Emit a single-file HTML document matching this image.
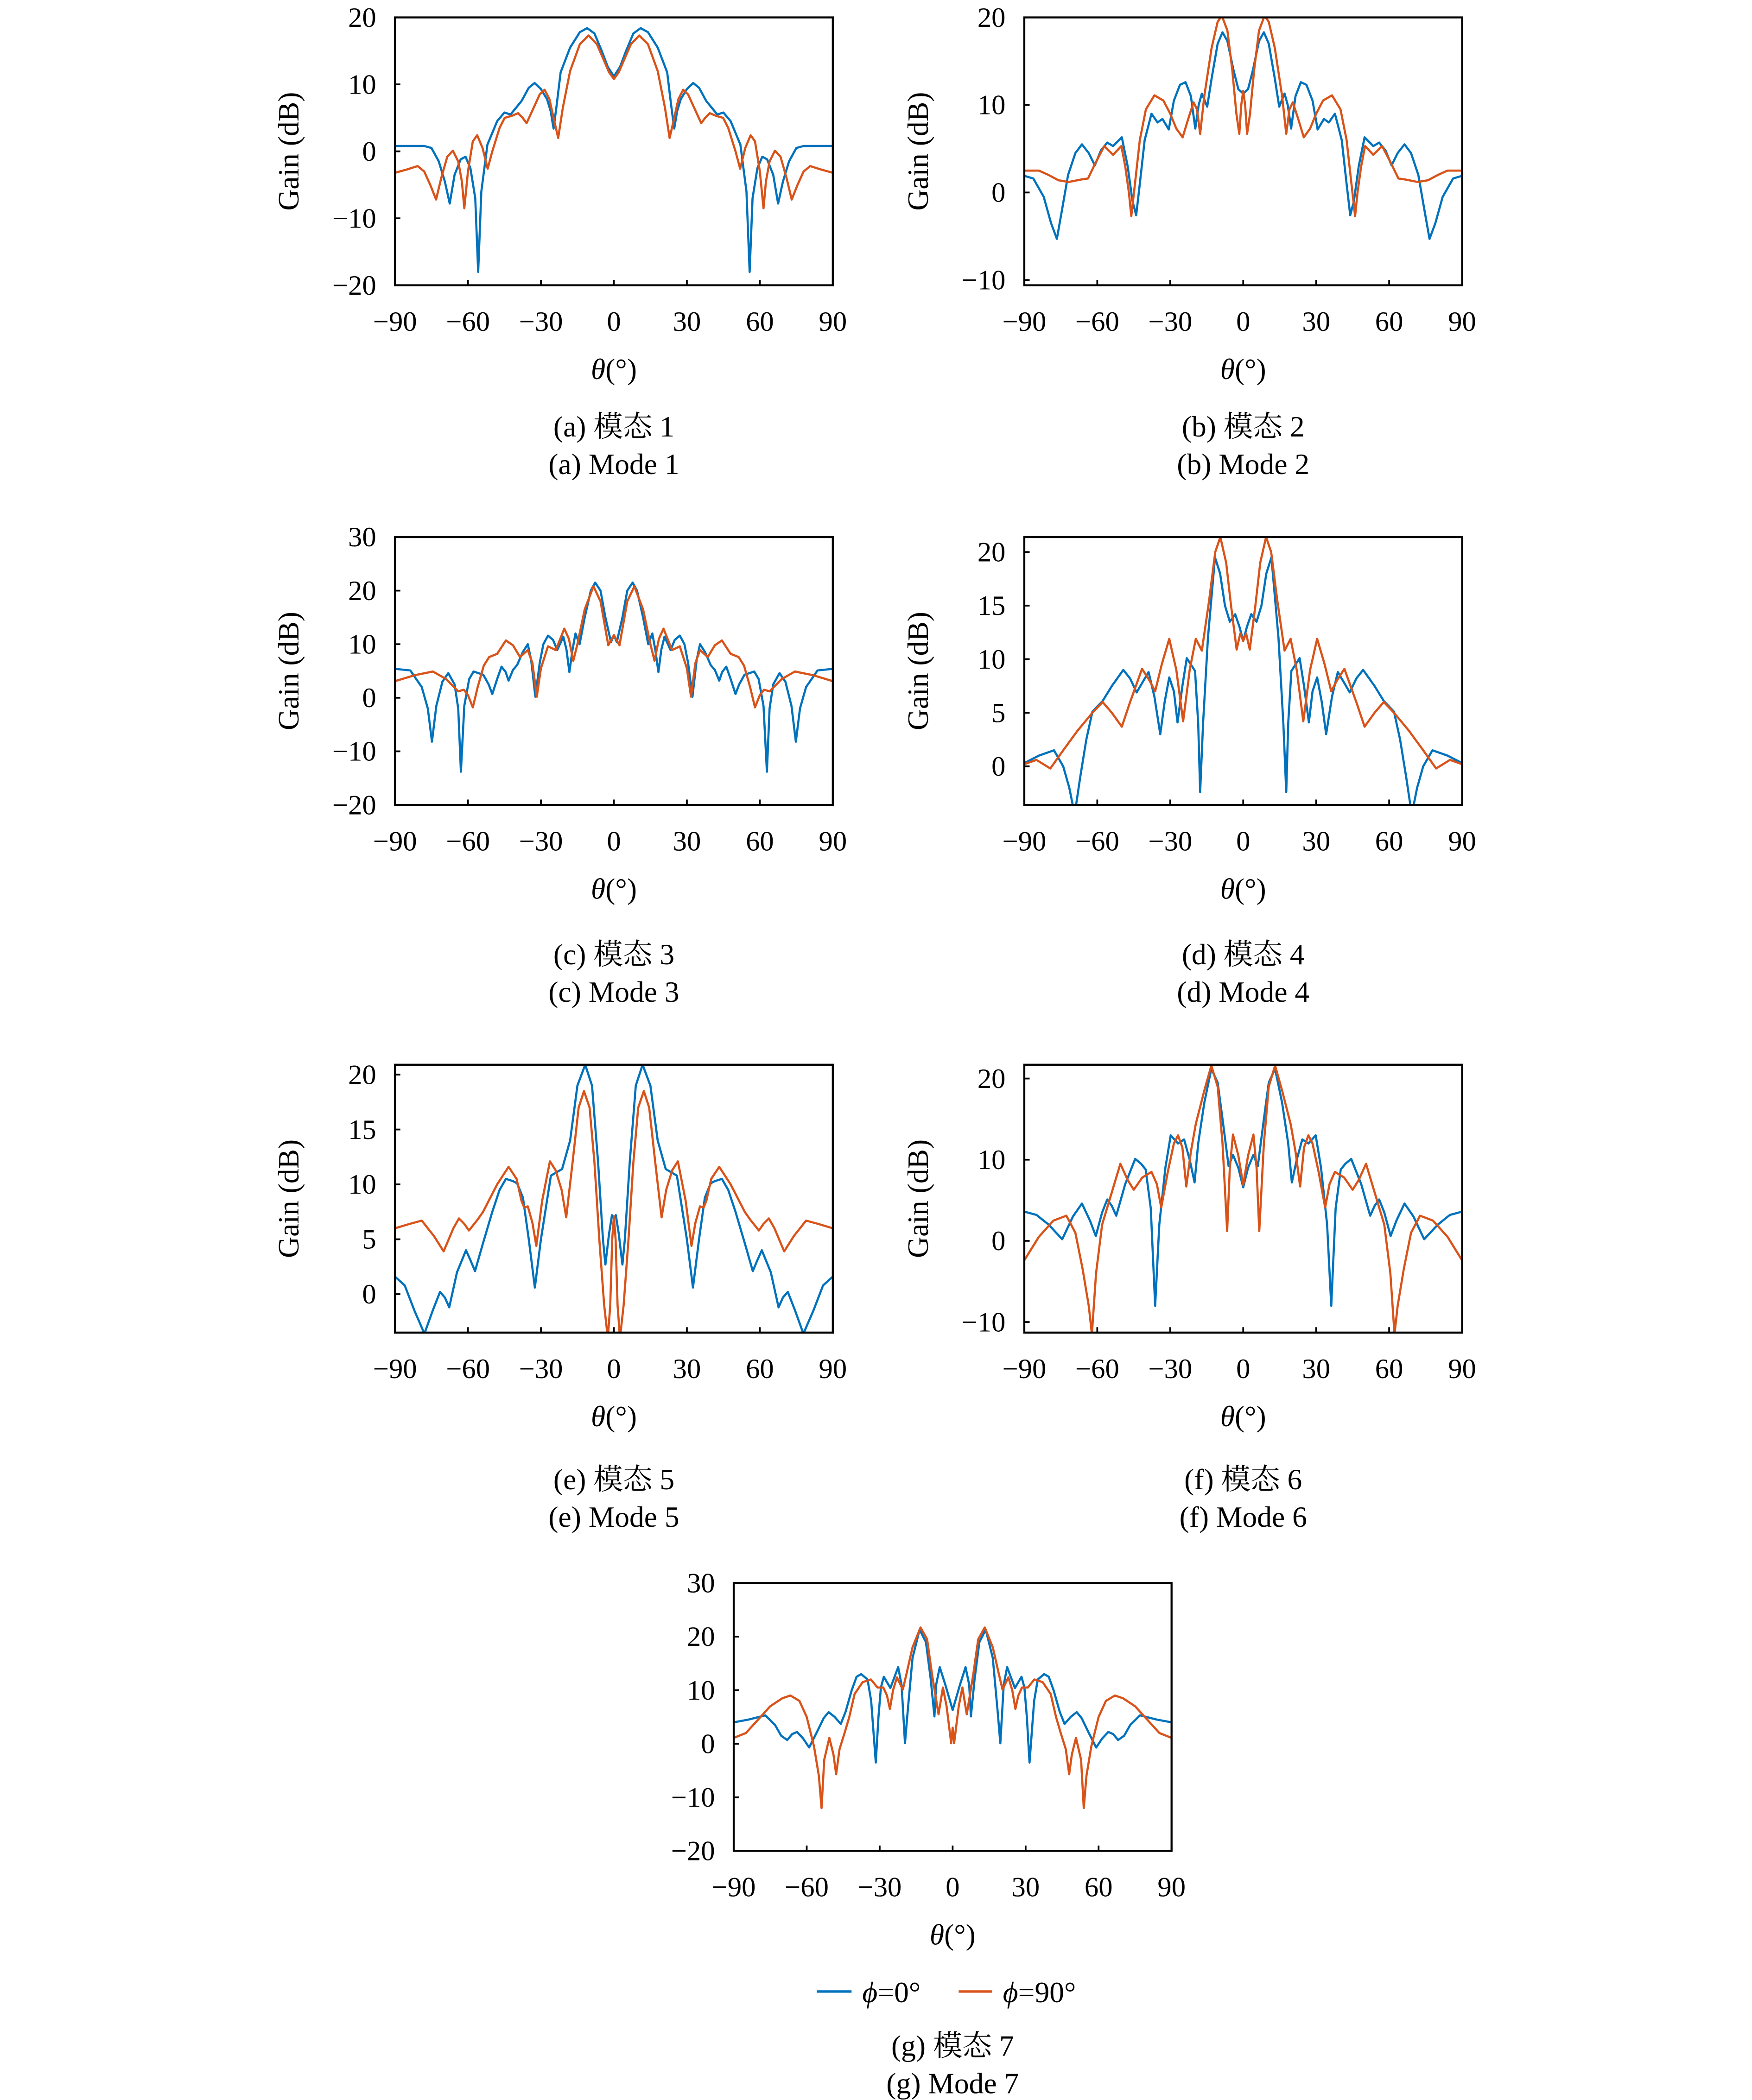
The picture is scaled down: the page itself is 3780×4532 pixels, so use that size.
<!DOCTYPE html>
<html><head><meta charset="utf-8"><style>
html,body{margin:0;padding:0;background:#fff;overflow:hidden;width:3780px;height:4532px}
svg{display:block}
text{font-family:"Liberation Serif","Noto Serif CJK SC",serif;fill:#000}
</style></head><body>
<svg id="fig" xmlns="http://www.w3.org/2000/svg" width="3780" height="4532" viewBox="0 0 1308.5 1568" preserveAspectRatio="none"></svg>
<script>
// ---- data: theta (deg), gain (dB) pairs ----
const xTicks=[-90,-60,-30,0,30,60,90];
const aBlue=[[-90,0.8],[-78,0.8],[-75,0.5],[-72,-1.5],[-69.5,-4.5],[-67.5,-7.8],[-65.5,-3.5],[-63,-1.2],[-61,-0.8],[-59,-2.5],[-57,-7],[-55.8,-18],[-54.5,-6],[-52,1],[-48,4.5],[-45,5.8],[-42.5,5.5],[-38,7.5],[-35,9.5],[-32.6,10.2],[-30,9.3],[-27.5,7.8],[-26,6],[-24.8,3.4],[-23.5,7],[-21.9,11.8],[-18,15.5],[-14,17.8],[-11,18.4],[-8,17.6],[-5,15],[-2.5,12.6],[0,11.2],[2.5,12.6],[5,15],[8,17.6],[11,18.4],[14,17.8],[18,15.5],[21.9,11.8],[23.5,7],[24.8,3.4],[26,6],[27.5,7.8],[30,9.3],[32.6,10.2],[35,9.5],[38,7.5],[42.5,5.5],[45,5.8],[48,4.5],[52,1],[54.5,-6],[55.8,-18],[57,-7],[59,-2.5],[61,-0.8],[63,-1.2],[65.5,-3.5],[67.5,-7.8],[69.5,-4.5],[72,-1.5],[75,0.5],[78,0.8],[90,0.8]];
const aOrange=[[-90,-3.2],[-85,-2.7],[-80.7,-2.2],[-78,-3],[-75.5,-5],[-73.1,-7.2],[-71,-4],[-68.5,-0.8],[-66.2,0.1],[-64,-1.5],[-62.5,-4.5],[-61.5,-8.5],[-60,-3],[-58,1.5],[-56.2,2.4],[-54,0.5],[-51.9,-2.6],[-50,0],[-47,3.5],[-44.9,5],[-42,5.3],[-39.4,5.7],[-37.5,5],[-35.9,4.2],[-33,6.5],[-30.5,8.5],[-28.5,9.2],[-26.5,7.8],[-24.5,4.5],[-22.9,2],[-21,6.5],[-18,12],[-14,16],[-10.4,17.3],[-7,16],[-4,13.5],[-2,11.8],[0,10.8],[2,11.8],[4,13.5],[7,16],[10.4,17.3],[14,16],[18,12],[21,6.5],[22.9,2],[24.5,4.5],[26.5,7.8],[28.5,9.2],[30.5,8.5],[33,6.5],[35.9,4.2],[37.5,5],[39.4,5.7],[42,5.3],[44.9,5],[47,3.5],[50,0],[51.9,-2.6],[54,0.5],[56.2,2.4],[58,1.5],[60,-3],[61.5,-8.5],[62.5,-4.5],[64,-1.5],[66.2,0.1],[68.5,-0.8],[71,-4],[73.1,-7.2],[75.5,-5],[78,-3],[80.7,-2.2],[85,-2.7],[90,-3.2]];
const bBlue=[[-90,1.9],[-86.3,1.6],[-82,-0.5],[-79,-3.5],[-76.6,-5.3],[-74.5,-2],[-72,2],[-69,4.5],[-66.3,5.5],[-63.5,4.5],[-61,3.1],[-58.5,4.8],[-55.9,5.7],[-53.5,5.3],[-49.9,6.3],[-47.5,3],[-45.5,-1],[-44,-2.6],[-42.5,1],[-40.5,6],[-37.7,9],[-35.2,8],[-33.2,8.4],[-30.6,7.2],[-28.5,10.5],[-26,12.3],[-23.7,12.6],[-21.5,11],[-19.7,7.3],[-18.3,10],[-17,11.3],[-14.8,9.8],[-13,13],[-10.5,17],[-8.5,18.3],[-6.5,17.3],[-4,14],[-2,11.8],[0,11.3],[2,11.8],[4,14],[6.5,17.3],[8.5,18.3],[10.5,17],[13,13],[14.8,9.8],[17,11.3],[18.3,10],[19.7,7.3],[21.5,11],[23.7,12.6],[26,12.3],[28.5,10.5],[30.6,7.2],[33.2,8.4],[35.2,8],[37.7,9],[40.5,6],[42.5,1],[44,-2.6],[45.5,-1],[47.5,3],[49.9,6.3],[53.5,5.3],[55.9,5.7],[58.5,4.8],[61,3.1],[63.5,4.5],[66.3,5.5],[69,4.5],[72,2],[74.5,-2],[76.6,-5.3],[79,-3.5],[82,-0.5],[86.3,1.6],[90,1.9]];
const bOrange=[[-90,2.5],[-84,2.5],[-80,2],[-76,1.4],[-71.8,1.2],[-66.3,1.5],[-63.8,1.6],[-60.5,3.5],[-57.1,5.3],[-53.5,4.3],[-50.1,5.3],[-48.5,3],[-47,0],[-46,-2.7],[-44.5,1],[-42.5,6],[-40,9.5],[-36.5,11.1],[-32.8,10.5],[-30,9],[-27.5,7.3],[-24.9,6.3],[-22.5,8.5],[-20.4,10.3],[-19,9.5],[-17.7,6.7],[-16,11],[-13,16.5],[-10.5,19.5],[-8.8,20.2],[-6.5,18.5],[-4.5,14],[-2.8,9],[-1.6,6.7],[-0.8,10],[0,11.6],[0.8,10],[1.6,6.7],[2.8,9],[4.5,14],[6.5,18.5],[8.8,20.2],[10.5,19.5],[13,16.5],[16,11],[17.7,6.7],[19,9.5],[20.4,10.3],[22.5,8.5],[24.9,6.3],[27.5,7.3],[30,9],[32.8,10.5],[36.5,11.1],[40,9.5],[42.5,6],[44.5,1],[46,-2.7],[47,0],[48.5,3],[50.1,5.3],[53.5,4.3],[57.1,5.3],[60.5,3.5],[63.8,1.6],[66.3,1.5],[71.8,1.2],[76,1.4],[80,2],[84,2.5],[90,2.5]];
const cBlue=[[-90,5.4],[-83.7,5.1],[-79,2],[-76.5,-2],[-74.8,-8.2],[-73,-1.5],[-70.5,3],[-68.1,4.6],[-65.5,2.5],[-64,-2],[-62.9,-13.8],[-61.5,-1.5],[-59.5,3.5],[-57.7,4.9],[-53.7,4.3],[-51.5,2.5],[-50,0.7],[-48,3.5],[-46.2,5.8],[-44.5,4.8],[-43.3,3.2],[-41.5,5.2],[-39.8,6.1],[-37.5,8.5],[-35.4,10],[-34,7],[-32.3,0.2],[-30.5,6.5],[-29,10],[-27.1,11.6],[-25,10.8],[-23.3,8.9],[-20.8,11.4],[-19.5,9],[-18.3,4.8],[-17,9],[-15.8,12],[-14.1,10],[-12,15],[-9.5,20],[-7.7,21.5],[-5.5,20],[-3.5,15],[-1.2,10.4],[0,11.7],[1.2,10.4],[3.5,15],[5.5,20],[7.7,21.5],[9.5,20],[12,15],[14.1,10],[15.8,12],[17,9],[18.3,4.8],[19.5,9],[20.8,11.4],[23.3,8.9],[25,10.8],[27.1,11.6],[29,10],[30.5,6.5],[32.3,0.2],[34,7],[35.4,10],[37.5,8.5],[39.8,6.1],[41.5,5.2],[43.3,3.2],[44.5,4.8],[46.2,5.8],[48,3.5],[50,0.7],[51.5,2.5],[53.7,4.3],[57.7,4.9],[59.5,3.5],[61.5,-1.5],[62.9,-13.8],[64,-2],[65.5,2.5],[68.1,4.6],[70.5,3],[73,-1.5],[74.8,-8.2],[76.5,-2],[79,2],[83.7,5.1],[90,5.4]];
const cOrange=[[-90,3.1],[-82,4.2],[-74.4,4.9],[-69,3.5],[-64,1.2],[-61.7,1.5],[-60,0.5],[-58,-1.8],[-56,2],[-53.5,6],[-51.3,7.6],[-48,8.2],[-44.4,10.7],[-41.5,9.8],[-38.6,7.6],[-35.4,8.9],[-33.5,6.5],[-31.7,0.2],[-30,5.5],[-27.1,9.6],[-23.9,8.9],[-20.4,12.9],[-18.5,11],[-16.7,6.9],[-15,10],[-12,16.5],[-8.4,20.8],[-5.5,18],[-2.3,9.8],[0,11.7],[2.3,9.8],[5.5,18],[8.4,20.8],[12,16.5],[15,10],[16.7,6.9],[18.5,11],[20.4,12.9],[23.9,8.9],[27.1,9.6],[30,5.5],[31.7,0.2],[33.5,6.5],[35.4,8.9],[38.6,7.6],[41.5,9.8],[44.4,10.7],[48,8.2],[51.3,7.6],[53.5,6],[56,2],[58,-1.8],[60,0.5],[61.7,1.5],[64,1.2],[69,3.5],[74.4,4.9],[82,4.2],[90,3.1]];
const dBlue=[[-90,0.3],[-84,1],[-77.8,1.5],[-74,0],[-71.5,-2],[-69.3,-4.5],[-67,-1],[-64.5,2.5],[-62,5.1],[-57.8,6.1],[-54,7.5],[-49.3,9],[-46.5,8.2],[-43.8,6.9],[-41.5,7.8],[-38.9,8.8],[-36.5,6.5],[-34.1,3],[-32.3,6],[-30.4,8.3],[-28.5,7],[-27,4.1],[-25,7.5],[-23.2,10.1],[-19.8,8.9],[-18.5,4],[-17.7,-2.4],[-16.5,4],[-14.5,12],[-11.6,19.5],[-9.5,18],[-7.5,15],[-5.5,13.5],[-3.3,14.2],[-1.5,13],[0,11.7],[1.5,13],[3.3,14.2],[5.5,13.5],[7.5,15],[9.5,18],[11.6,19.5],[14.5,12],[16.5,4],[17.7,-2.4],[18.5,4],[19.8,8.9],[23.2,10.1],[25,7.5],[27,4.1],[28.5,7],[30.4,8.3],[32.3,6],[34.1,3],[36.5,6.5],[38.9,8.8],[41.5,7.8],[43.8,6.9],[46.5,8.2],[49.3,9],[54,7.5],[57.8,6.1],[62,5.1],[64.5,2.5],[67,-1],[69.3,-4.5],[71.5,-2],[74,0],[77.8,1.5],[84,1],[90,0.3]];
const dOrange=[[-90,0.2],[-85,0.6],[-79.3,-0.2],[-74,1.5],[-68.2,3.3],[-62,5],[-57.8,6],[-54,5],[-49.9,3.7],[-46.5,6],[-41.6,9.1],[-38.5,8],[-36.2,7],[-33.5,9.5],[-30.4,11.9],[-27.5,9],[-24.7,4.2],[-22,9],[-19.5,11.9],[-17,10.8],[-14,15.5],[-11.5,20],[-9.4,21.4],[-7,19],[-5,15],[-2.7,10.9],[-1.2,12.4],[0,11.7],[1.2,12.4],[2.7,10.9],[5,15],[7,19],[9.4,21.4],[11.5,20],[14,15.5],[17,10.8],[19.5,11.9],[22,9],[24.7,4.2],[27.5,9],[30.4,11.9],[33.5,9.5],[36.2,7],[38.5,8],[41.6,9.1],[46.5,6],[49.9,3.7],[54,5],[57.8,6],[62,5],[68.2,3.3],[74,1.5],[79.3,-0.2],[85,0.6],[90,0.2]];
const eBlue=[[-90,1.6],[-86,0.8],[-82,-1.5],[-77.9,-3.6],[-74.5,-1.5],[-71.5,0.2],[-69.5,-0.3],[-67.7,-1.2],[-64.5,2],[-60.8,4],[-58.8,3],[-57.1,2.1],[-54,4.5],[-50,7.5],[-47,9.5],[-44.4,10.5],[-41.5,10.3],[-39.8,10.1],[-37.4,8.8],[-35,5],[-32.5,0.6],[-30,5],[-25.9,10.8],[-21.3,11.4],[-18,14],[-15,19],[-11.8,20.9],[-9,19],[-6.5,12],[-4.5,5],[-3.5,2.7],[-2,5.5],[-0.8,7.2],[0,6.9],[0.8,7.2],[2,5.5],[3.5,2.7],[4.5,5],[6.5,12],[9,19],[11.8,20.9],[15,19],[18,14],[21.3,11.4],[25.9,10.8],[30,5],[32.5,0.6],[35,5],[37.4,8.8],[39.8,10.1],[41.5,10.3],[44.4,10.5],[47,9.5],[50,7.5],[54,4.5],[57.1,2.1],[58.8,3],[60.8,4],[64.5,2],[67.7,-1.2],[69.5,-0.3],[71.5,0.2],[74.5,-1.5],[77.9,-3.6],[82,-1.5],[86,0.8],[90,1.6]];
const eOrange=[[-90,6],[-84,6.4],[-79,6.7],[-74,5.3],[-70,3.9],[-66,6],[-63.7,6.9],[-61.5,6.4],[-59.6,5.8],[-56,6.8],[-53.8,7.5],[-48,10],[-43.3,11.6],[-40,10.5],[-38,8.5],[-36.9,7.9],[-35.4,8],[-33.5,6.5],[-31.9,4.4],[-29.5,8.5],[-26.3,12.1],[-24,11.3],[-21.5,9.5],[-19.6,7],[-17,12],[-14.5,17],[-12.3,18.5],[-10,17],[-8,12],[-6,5],[-4,-1],[-2.5,-4],[-1.5,-1],[-0.7,5],[0,7.1],[0.7,5],[1.5,-1],[2.5,-4],[4,-1],[6,5],[8,12],[10,17],[12.3,18.5],[14.5,17],[17,12],[19.6,7],[21.5,9.5],[24,11.3],[26.3,12.1],[29.5,8.5],[31.9,4.4],[33.5,6.5],[35.4,8],[36.9,7.9],[38,8.5],[40,10.5],[43.3,11.6],[48,10],[53.8,7.5],[56,6.8],[59.6,5.8],[61.5,6.4],[63.7,6.9],[66,6],[70,3.9],[74,5.3],[79,6.7],[84,6.4],[90,6]];
const fBlue=[[-90,3.6],[-85,3.2],[-80,2],[-74.4,0.2],[-70,3],[-66.3,4.6],[-63,2.5],[-60.6,0.6],[-58,3.5],[-55.9,5.1],[-54,4.3],[-52.2,3.1],[-48.5,7],[-44.4,10.1],[-42,9.5],[-40.1,8.8],[-38,4],[-36.2,-8],[-34.5,2],[-32,9],[-29.8,13],[-26.8,12],[-24.3,12.5],[-22,10],[-20,7.2],[-18.5,12],[-16,17],[-13.1,21.2],[-10.5,19.5],[-8.5,15],[-6,9.2],[-4.2,10.6],[-2,9],[0,6.6],[2,9],[4.2,10.6],[6,9.2],[8.5,15],[10.5,19.5],[13.1,21.2],[16,17],[18.5,12],[20,7.2],[22,10],[24.3,12.5],[26.8,12],[29.8,13],[32,9],[34.5,2],[36.2,-8],[38,4],[40.1,8.8],[42,9.5],[44.4,10.1],[48.5,7],[52.2,3.1],[54,4.3],[55.9,5.1],[58,3.5],[60.6,0.6],[63,2.5],[66.3,4.6],[70,3],[74.4,0.2],[80,2],[85,3.2],[90,3.6]];
const fOrange=[[-90,-2.4],[-84,0.5],[-78,2.5],[-72.7,3.1],[-69,1],[-66,-3.5],[-63.5,-8],[-62.2,-11.5],[-60.5,-4],[-58,2],[-54,6],[-50.5,9.5],[-47.5,7.5],[-45,6.3],[-41.5,7.8],[-37.7,8.5],[-35.5,7],[-33.7,4.1],[-31,8.5],[-28.5,12],[-26.8,13],[-25,11.5],[-23.4,6.7],[-21.5,11],[-19.5,14.4],[-16,18.5],[-13.1,21.6],[-10.5,19],[-8.5,12],[-6.6,1.2],[-5.5,9],[-4.2,13.1],[-2,10.5],[0,6.9],[2,10.5],[4.2,13.1],[5.5,9],[6.6,1.2],[8.5,12],[10.5,19],[13.1,21.6],[16,18.5],[19.5,14.4],[21.5,11],[23.4,6.7],[25,11.5],[26.8,13],[28.5,12],[31,8.5],[33.7,4.1],[35.5,7],[37.7,8.5],[41.5,7.8],[45,6.3],[47.5,7.5],[50.5,9.5],[54,6],[58,2],[60.5,-4],[62.2,-11.5],[63.5,-8],[66,-3.5],[69,1],[72.7,3.1],[78,2.5],[84,0.5],[90,-2.4]];
const gBlue=[[-90,4],[-84,4.5],[-77,5.3],[-73,3.5],[-70.5,1.5],[-68,0.7],[-66,1.8],[-64,2.2],[-61.5,1],[-59,-0.7],[-56,2],[-53,4.8],[-51,5.9],[-48.5,5],[-46,3.7],[-44,6],[-41.5,10],[-39.5,12.5],[-37.6,13],[-35,12],[-33.5,8],[-31.6,-3.5],[-30.5,5],[-29.5,10.5],[-28.3,12.5],[-25.6,10.4],[-22.4,14.3],[-21,11],[-19.6,0.1],[-18.5,6],[-16.5,16],[-13.6,21.3],[-11,19],[-9,12],[-7.5,5.1],[-6.8,11],[-5.3,14.3],[-3,11],[0,6.3],[3,11],[5.3,14.3],[6.8,11],[7.5,5.1],[9,12],[11,19],[13.6,21.3],[16.5,16],[18.5,6],[19.6,0.1],[21,11],[22.4,14.3],[25.6,10.4],[28.3,12.5],[29.5,10.5],[30.5,5],[31.6,-3.5],[33.5,8],[35,12],[37.6,13],[39.5,12.5],[41.5,10],[44,6],[46,3.7],[48.5,5],[51,5.9],[53,4.8],[56,2],[59,-0.7],[61.5,1],[64,2.2],[66,1.8],[68,0.7],[70.5,1.5],[73,3.5],[77,5.3],[84,4.5],[90,4]];
const gOrange=[[-90,1.1],[-85,2],[-80,4.5],[-75,7],[-70,8.5],[-66.7,9],[-63,8],[-60,5],[-57,-0.5],[-55,-6],[-53.9,-12],[-52.8,-3],[-50.7,1.1],[-49,-2],[-47.9,-5.7],[-46.5,-1],[-44.3,2.2],[-42.5,5],[-40.3,9.3],[-37,11.5],[-33.6,12],[-30.9,10.5],[-28.5,10.5],[-27,9],[-25.8,6.5],[-24.5,10],[-22.9,12.4],[-20.5,10.1],[-19,13],[-16.5,18],[-13.2,21.7],[-10.5,19.5],[-8.5,13],[-5.8,5.5],[-4,10.5],[-2.5,7],[-0.6,0.1],[0,3],[0.6,0.1],[2.5,7],[4,10.5],[5.8,5.5],[8.5,13],[10.5,19.5],[13.2,21.7],[16.5,18],[19,13],[20.5,10.1],[22.9,12.4],[24.5,10],[25.8,6.5],[27,9],[28.5,10.5],[30.9,10.5],[33.6,12],[37,11.5],[40.3,9.3],[42.5,5],[44.3,2.2],[46.5,-1],[47.9,-5.7],[49,-2],[50.7,1.1],[52.8,-3],[53.9,-12],[55,-6],[57,-0.5],[60,5],[63,8],[66.7,9],[70,8.5],[75,7],[80,4.5],[85,2],[90,1.1]];
const yTicksA=[-20,-10,0,10,20], yTicksB=[-10,0,10,20], yTicksC=[-20,-10,0,10,20,30],
      yTicksD=[0,5,10,15,20], yTicksE=[0,5,10,15,20], yTicksF=[-10,0,10,20], yTicksG=[-20,-10,0,10,20,30];

const NS='http://www.w3.org/2000/svg';
const svg=document.getElementById('fig');
function mk(tag,attrs,parent){const e=document.createElementNS(NS,tag);for(const k in attrs)e.setAttribute(k,attrs[k]);(parent||svg).appendChild(e);return e;}

const panels=[
 {id:'a',x0:295,y0:13,ymin:-20,ymax:20,yt:yTicksA,blue:aBlue,orange:aOrange,cap:'模态 1',mode:'Mode 1',yl:true,co:0},
 {id:'b',x0:765,y0:13,ymin:-10.6,ymax:20,yt:yTicksB,blue:bBlue,orange:bOrange,cap:'模态 2',mode:'Mode 2',yl:true,co:0},
 {id:'c',x0:295,y0:401,ymin:-20,ymax:30,yt:yTicksC,blue:cBlue,orange:cOrange,cap:'模态 3',mode:'Mode 3',yl:true,co:6},
 {id:'d',x0:765,y0:401,ymin:-3.6,ymax:21.4,yt:yTicksD,blue:dBlue,orange:dOrange,cap:'模态 4',mode:'Mode 4',yl:true,co:6},
 {id:'e',x0:295,y0:795,ymin:-3.5,ymax:20.9,yt:yTicksE,blue:eBlue,orange:eOrange,cap:'模态 5',mode:'Mode 5',yl:true,co:4},
 {id:'f',x0:765,y0:795,ymin:-11.3,ymax:21.7,yt:yTicksF,blue:fBlue,orange:fOrange,cap:'模态 6',mode:'Mode 6',yl:true,co:4},
 {id:'g',x0:548,y0:1182,ymin:-20,ymax:30,yt:yTicksG,blue:gBlue,orange:gOrange,cap:'模态 7',mode:'Mode 7',yl:false,co:40}
];
const W=327,H=200;
panels.forEach(p=>{
  const g=mk('g',{});
  
  
  const sx=t=>p.x0+(t+90)/180*W;
  const sy=v=>p.y0+(p.ymax-v)/(p.ymax-p.ymin)*H;
  const cp=mk('clipPath',{id:'clip'+p.id},g);
  mk('rect',{x:p.x0,y:p.y0,width:W,height:H},cp);
  [['blue','#0072BD',p.blue],['orange','#D95319',p.orange]].forEach(([nm,col,data])=>{
    const d=data.map((pt,i)=>(i?'L':'M')+sx(pt[0]).toFixed(2)+' '+sy(pt[1]).toFixed(2)).join(' ');
    const path=mk('path',{d:d,fill:'none',stroke:col,'stroke-width':1.6,'stroke-linejoin':'round','clip-path':'url(#clip'+p.id+')'},g);
    
    
  });
  const box=mk('rect',{x:p.x0,y:p.y0,width:W,height:H,fill:'none',stroke:'#000','stroke-width':1.5},g);
  
  
  xTicks.forEach(t=>{
    const x=sx(t);
    mk('line',{x1:x,x2:x,y1:p.y0+H,y2:p.y0+H-4,stroke:'#000','stroke-width':1.3},g);
    const tx=mk('text',{x:x,y:p.y0+H+34,'text-anchor':'middle','font-size':21},g);
    tx.textContent=(t<0?'\u2212'+(-t):''+t);
    
    
  });
  p.yt.forEach(v=>{
    const y=sy(v);
    mk('line',{x1:p.x0,x2:p.x0+4,y1:y,y2:y,stroke:'#000','stroke-width':1.3},g);
    const tx=mk('text',{x:p.x0-14,y:y+7,'text-anchor':'end','font-size':21},g);
    tx.textContent=(v<0?'\u2212'+(-v):''+v);
    
    
  });
  if(p.yl){
    const yl=mk('text',{x:0,y:0,'text-anchor':'middle','font-size':22,transform:'translate('+(p.x0-72)+','+(p.y0+H/2)+') rotate(-90)'},g);
    yl.textContent='Gain (dB)';
    
    
  }
  const cx=p.x0+W/2;
  const xl=mk('text',{x:cx,y:p.y0+H+70,'text-anchor':'middle','font-size':22},g);
  xl.innerHTML='<tspan font-style="italic">θ</tspan>(°)';
  
  
  const c1=mk('text',{x:cx,y:p.y0+H+113+p.co,'text-anchor':'middle','font-size':22},g);
  c1.textContent='('+p.id+') '+p.cap;
  
  
  const c2=mk('text',{x:cx,y:p.y0+H+141+p.co,'text-anchor':'middle','font-size':22},g);
  c2.textContent='('+p.id+') '+p.mode;
  
  
});
// legend
const lg=mk('g',{});


const l1=mk('line',{x1:610,x2:636,y1:1487,y2:1487,stroke:'#0072BD','stroke-width':1.8},lg);


const t1=mk('text',{x:644,y:1495,'font-size':22},lg);
t1.innerHTML='<tspan font-style="italic">ϕ</tspan>=0°';


const l2=mk('line',{x1:716,x2:741,y1:1487,y2:1487,stroke:'#D95319','stroke-width':1.8},lg);


const t2=mk('text',{x:749,y:1495,'font-size':22},lg);
t2.innerHTML='<tspan font-style="italic">ϕ</tspan>=90°';


</script>
</body></html>
